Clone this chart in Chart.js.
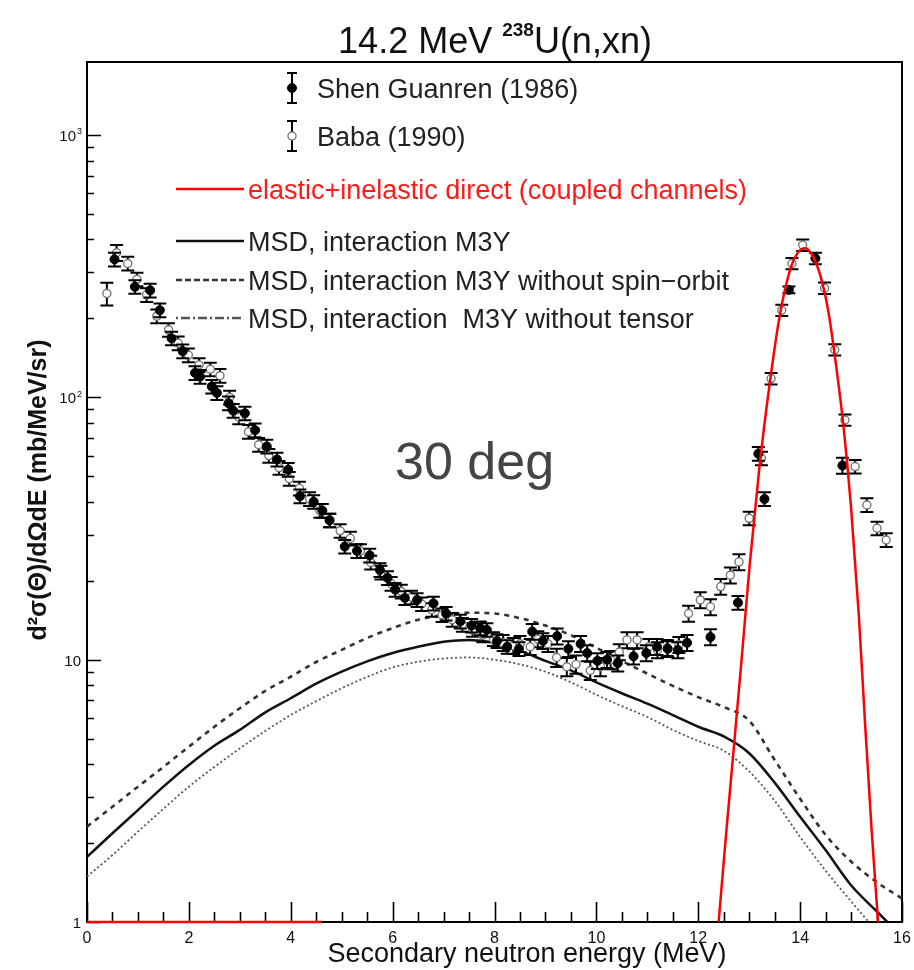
<!DOCTYPE html>
<html>
<head>
<meta charset="utf-8">
<script src="https://cdn.jsdelivr.net/npm/chart.js@4.4.1/dist/chart.umd.min.js"></script>
<style>
  html, body { margin: 0; padding: 0; background: #fff; }
  canvas { display: block; }
</style>
</head>
<body>
<canvas id="spectrum" width="914" height="970"></canvas>
<script>
// secondary neutron energy (MeV) / d2sigma (mb/MeV/sr) / error in percent
const shenE = [0.54, 0.94, 1.24, 1.43, 1.66, 1.88, 2.12, 2.22, 2.45, 2.55, 2.78, 2.87, 3.10, 3.30, 3.53, 3.73, 3.95,
  4.18, 4.45, 4.62, 4.76, 5.06, 5.30, 5.55, 5.75, 5.90, 6.05, 6.24, 6.48, 6.80, 7.05, 7.33, 7.55, 7.72, 7.85,
  8.05, 8.25, 8.48, 8.74, 8.95, 9.23, 9.45, 9.69, 9.82, 10.02, 10.21, 10.42, 10.73, 10.98, 11.19, 11.40, 11.60,
  11.78, 12.24, 12.78, 13.18, 13.30, 13.78, 14.30, 14.83];
const shenY = [336, 264, 256, 215, 168, 150, 124, 120, 110, 104, 95, 89, 87, 75, 65, 58, 53,
  42, 40, 37, 34, 27, 26, 25, 22, 20.5, 18.5, 17.2, 16.9, 16.4, 15.0, 14.0, 13.5, 13.2, 13.0,
  11.8, 11.2, 11.0, 12.8, 11.8, 12.3, 11.0, 11.5, 10.6, 9.9, 10.0, 9.7, 10.3, 10.6, 11.2, 11.0, 10.9,
  11.6, 12.2, 16.5, 61, 41, 257, 339, 55];
const shenErr = [6, 6, 6, 6, 6, 6, 6, 6, 6, 6, 6, 6, 6, 6, 6, 6, 6,
  6, 6, 6, 6, 6, 6, 6, 6, 6, 6, 6, 6, 6, 6, 6, 6, 6, 6,
  6, 6, 6, 7, 7, 7, 7, 7, 7, 7, 7, 7, 7, 7, 7, 7, 7,
  7, 7, 6, 6, 6, 3, 5, 7];

const babaE = [0.39, 0.58, 0.80, 0.98, 1.17, 1.37, 1.60, 1.79, 1.99, 2.20, 2.42, 2.61, 2.80, 2.98, 3.17, 3.37,
  3.57, 3.77, 3.97, 4.17, 4.37, 4.57, 4.77, 4.97, 5.17, 5.37, 5.57, 5.77, 5.97, 6.17, 6.37, 6.57, 6.77, 6.97,
  7.17, 7.37, 7.57, 7.77, 7.98, 8.17, 8.37, 8.50, 8.70, 8.85, 9.05, 9.22, 9.42, 9.60, 9.88, 10.08, 10.28,
  10.45, 10.60, 10.80, 11.03, 11.20, 11.39, 11.62, 11.81, 12.04, 12.24, 12.44, 12.63, 12.80, 13.00, 13.24,
  13.43, 13.64, 13.84, 14.05, 14.48, 14.68, 14.88, 15.08, 15.31, 15.51, 15.69];
const babaY = [249, 356, 324, 282, 246, 204, 181, 161, 145, 133, 128, 121, 100, 84, 74, 66,
  60, 54, 49, 45, 41, 37, 34, 31, 29, 26, 23.5, 21.5, 19.5, 18.2, 17.3, 16.3, 15.5, 14.8,
  14.2, 13.6, 13.0, 12.4, 12.0, 11.6, 11.3, 11.5, 11.2, 12.0, 11.5, 10.2, 9.4, 9.6, 9.1, 9.4, 10.0,
  10.7, 11.9, 11.9, 11.2, 10.9, 11.1, 11.4, 15.0, 16.9, 15.9, 19.0, 21, 23.6, 34.6, 58.6,
  118, 215, 324, 381, 261, 152, 82, 54.5, 38.9, 31.7, 28.6];
const babaErr = [10, 7, 6, 6, 6, 6, 6, 6, 6, 6, 6, 6, 6, 6, 6, 6,
  6, 6, 6, 6, 6, 6, 6, 6, 6, 6, 6, 6, 6, 6, 6, 6, 6, 6,
  6, 6, 6, 6, 6, 7, 7, 7, 7, 7, 7, 8, 8, 8, 8, 8, 8,
  7, 7, 7, 7, 7, 7, 7, 7, 7, 7, 7, 7, 7, 6, 6,
  5, 5, 5, 5, 5, 5, 5, 6, 6, 6, 6];

// MSD calculations on a common energy grid
const msdE = [0, 0.5, 1, 1.5, 2, 2.5, 3, 3.5, 4, 4.5, 5, 5.5, 6, 6.5, 7, 7.5, 8, 8.5, 9, 9.5, 10,
  10.5, 11, 11.5, 12, 12.5, 13, 13.5, 14, 14.5, 15, 15.5, 16];
const msdM3Y = [1.77, 2.18, 2.67, 3.28, 3.97, 4.7, 5.4, 6.3, 7.13, 8.1, 9.0, 9.85, 10.6, 11.2, 11.7, 11.9, 11.6,
  10.8, 9.9, 9.1, 8.2, 7.45, 6.8, 6.15, 5.55, 5.1, 4.4, 3.4, 2.52, 1.88, 1.38, 1.1, 0.88];
const msdNoSpinOrbit = [2.31, 2.75, 3.28, 3.9, 4.66, 5.55, 6.53, 7.6, 8.61, 9.8, 10.9, 12.1, 13.2, 14.2, 14.8, 15.1,
  15.0, 14.4, 13.5, 12.4, 11.1, 9.9, 8.85, 7.95, 7.2, 6.6, 5.85, 4.15, 2.95, 2.15, 1.7, 1.42, 1.23];
const msdNoTensor = [1.49, 1.8, 2.21, 2.7, 3.28, 3.9, 4.59, 5.35, 6.15, 6.95, 7.78, 8.6, 9.35, 9.82, 10.1, 10.2,
  10.0, 9.6, 9.0, 8.2, 7.35, 6.65, 6.05, 5.4, 4.9, 4.5, 3.75, 2.9, 2.11, 1.57, 1.2, 0.93, 0.76];

// coupled channels (elastic + inelastic direct); null breaks the line
const ccE = [0, 4.6, 5, 12.40, 12.55, 12.71, 12.86, 13.01, 13.2, 13.4, 13.6, 13.8, 13.95, 14.1, 14.25, 14.4,
  14.55, 14.7, 14.85, 15.0, 15.15, 15.28, 15.4, 15.53];
const ccY = [1, 1, null, 1.0, 2.2, 4.9, 10.5, 23, 54, 112, 205, 305, 355, 370, 345, 290,
  215, 135, 78, 38, 15, 5.5, 2.3, 1.0];

const xTickLabels = [0, 2, 4, 6, 8, 10, 12, 14, 16];
const yTickLabels = [[1, '1', ''], [10, '10', ''], [100, '10', '2'], [1000, '10', '3']];

const FONT = '"Liberation Sans", Arial, sans-serif';
const toPoints = (xs, ys) => xs.map((x, i) => ({ x, y: ys[i] }));

// frame and inward ticks, drawn under the curves
const axesPlugin = {
  id: 'axes',
  beforeDatasetsDraw(chart) {
    const { ctx, chartArea: a, scales: { x, y } } = chart;
    ctx.save();
    ctx.strokeStyle = '#000';
    ctx.lineWidth = 2;
    ctx.strokeRect(a.left, a.top, a.right - a.left, a.bottom - a.top);
    ctx.lineWidth = 1.6;
    ctx.beginPath();
    for (let v = 0; v <= 16; v += 0.5) {
      const px = Math.round(x.getPixelForValue(v)) + 0.5;
      const len = v % 2 === 0 ? 20 : 10;
      ctx.moveTo(px, a.bottom);
      ctx.lineTo(px, a.bottom - len);
    }
    for (let d = 1; d <= 1000; d *= 10) {
      for (let m = 1; m <= 9; m++) {
        const v = d * m;
        if (v > y.max) break;
        const py = Math.round(y.getPixelForValue(v)) + 0.5;
        ctx.moveTo(a.left, py);
        ctx.lineTo(a.left + (m === 1 ? 14 : 7), py);
      }
    }
    ctx.stroke();
    ctx.restore();
  }
};

// vertical error bars with caps under each data marker
const errorBarPlugin = {
  id: 'errorBars',
  beforeDatasetDraw(chart, args) {
    const ds = chart.data.datasets[args.index];
    if (!ds.errPct) return;
    const { ctx } = chart;
    const y = chart.scales.y;
    ctx.save();
    ctx.strokeStyle = '#000';
    ctx.lineWidth = 2;
    ctx.beginPath();
    args.meta.data.forEach((pt, i) => {
      const v = ds.data[i].y;
      const e = v * ds.errPct[i] / 100;
      const top = y.getPixelForValue(v + e);
      const bot = y.getPixelForValue(v - e);
      ctx.moveTo(pt.x, top); ctx.lineTo(pt.x, bot);
      ctx.moveTo(pt.x - 6.5, top); ctx.lineTo(pt.x + 6.5, top);
      ctx.moveTo(pt.x - 6.5, bot); ctx.lineTo(pt.x + 6.5, bot);
    });
    ctx.stroke();
    ctx.restore();
  }
};

function drawPower(ctx, base, exp, x, y, size, align) {
  ctx.font = size + 'px ' + FONT;
  const wb = ctx.measureText(base).width;
  ctx.font = Math.round(size * 0.62) + 'px ' + FONT;
  const we = exp ? ctx.measureText(exp).width : 0;
  const start = align === 'right' ? x - wb - we : x - (wb + we) / 2;
  ctx.textAlign = 'left';
  ctx.font = size + 'px ' + FONT;
  ctx.fillText(base, start, y);
  if (exp) {
    ctx.font = Math.round(size * 0.62) + 'px ' + FONT;
    ctx.fillText(exp, start + wb + 1, y - size * 0.45);
  }
}

// titles, tick labels, legend and angle annotation
const labelsPlugin = {
  id: 'labels',
  afterDraw(chart) {
    const { ctx, chartArea: a, scales: { x, y } } = chart;
    const ds = chart.data.datasets;
    ctx.save();
    ctx.fillStyle = '#111';
    ctx.textBaseline = 'alphabetic';

    // main title with superscript mass number
    const tSize = 36;
    ctx.font = tSize + 'px ' + FONT;
    const p1 = '14.2 MeV ', p3 = 'U(n,xn)';
    const w1 = ctx.measureText(p1).width, w3 = ctx.measureText(p3).width;
    ctx.font = 'bold 19px ' + FONT;
    const w2 = ctx.measureText('238').width;
    const tx = 495 - (w1 + w2 + w3) / 2;
    ctx.textAlign = 'left';
    ctx.font = tSize + 'px ' + FONT;
    ctx.fillText(p1, tx, 53);
    ctx.font = 'bold 19px ' + FONT;
    ctx.fillText('238', tx + w1, 36);
    ctx.font = tSize + 'px ' + FONT;
    ctx.fillText(p3, tx + w1 + w2, 53);

    // x tick labels
    ctx.font = '16px ' + FONT;
    ctx.textAlign = 'center';
    xTickLabels.forEach(v => ctx.fillText(String(v), x.getPixelForValue(v), a.bottom + 21));

    // y tick labels
    yTickLabels.forEach(([v, b, e]) => drawPower(ctx, b, e, a.left - 6, y.getPixelForValue(v) + 6, 15, 'right'));

    // axis titles
    ctx.font = '27px ' + FONT;
    ctx.textAlign = 'center';
    ctx.fillText('Secondary neutron energy (MeV)', 527, 962);
    ctx.save();
    ctx.translate(46, 490);
    ctx.rotate(-Math.PI / 2);
    ctx.font = 'bold 25px ' + FONT;
    ctx.fillText('d\u00B2\u03C3(\u0398)/d\u03A9dE (mb/MeV/sr)', 0, 0);
    ctx.restore();

    // angle
    ctx.fillStyle = '#444';
    ctx.font = '52px ' + FONT;
    ctx.textAlign = 'left';
    ctx.fillText('30 deg', 395, 479);

    // legend: marker entries
    ctx.font = '27px ' + FONT;
    const markRows = [[ds[1], 88], [ds[2], 136]];
    markRows.forEach(([d, ly]) => {
      ctx.strokeStyle = '#000';
      ctx.lineWidth = 2;
      ctx.beginPath();
      ctx.moveTo(292, ly - 15); ctx.lineTo(292, ly + 15);
      ctx.moveTo(287, ly - 15); ctx.lineTo(297, ly - 15);
      ctx.moveTo(287, ly + 15); ctx.lineTo(297, ly + 15);
      ctx.stroke();
      ctx.beginPath();
      ctx.arc(292, ly, d.pointRadius, 0, Math.PI * 2);
      ctx.fillStyle = d.backgroundColor;
      ctx.fill();
      ctx.lineWidth = d.borderWidth || 1;
      ctx.strokeStyle = d.borderColor;
      ctx.stroke();
      ctx.fillStyle = '#222';
      ctx.fillText(d.label, 317, ly + 10);
    });

    // legend: line entries
    const lineRows = [[ds[0], 189, [], '#ff1a1a'], [ds[3], 241, [], '#222'],
      [ds[4], 280, [6, 3], '#222'], [ds[5], 318, [2, 3, 9, 3], '#222']];
    lineRows.forEach(([d, ly, dash, col]) => {
      ctx.strokeStyle = d.borderColor;
      ctx.lineWidth = 2.5;
      ctx.setLineDash(dash);
      ctx.beginPath();
      ctx.moveTo(176, ly); ctx.lineTo(244, ly);
      ctx.stroke();
      ctx.setLineDash([]);
      ctx.fillStyle = col;
      ctx.fillText(d.label, 248, ly + 10);
    });
    ctx.restore();
  }
};

new Chart(document.getElementById('spectrum'), {
  type: 'scatter',
  data: {
    datasets: [
      {
        label: 'elastic+inelastic direct (coupled channels)',
        data: toPoints(ccE, ccY),
        showLine: true, spanGaps: false,
        borderColor: '#ff0000', borderWidth: 2.5,
        pointRadius: 0, cubicInterpolationMode: 'monotone',
        clip: { left: 2, top: 0, right: 0, bottom: 2 },
        order: 0
      },
      {
        label: 'Shen Guanren (1986)',
        data: toPoints(shenE, shenY), errPct: shenErr,
        pointRadius: 4.5, backgroundColor: '#000', borderColor: '#000', borderWidth: 1,
        order: 1
      },
      {
        label: 'Baba (1990)',
        data: toPoints(babaE, babaY), errPct: babaErr,
        pointRadius: 4, backgroundColor: '#fff', borderColor: '#777', borderWidth: 1.4,
        order: 2
      },
      {
        label: 'MSD, interaction M3Y',
        data: toPoints(msdE, msdM3Y),
        showLine: true, borderColor: '#111', borderWidth: 2.5,
        pointRadius: 0, cubicInterpolationMode: 'monotone',
        order: 3
      },
      {
        label: 'MSD, interaction M3Y without spin\u2212orbit',
        data: toPoints(msdE, msdNoSpinOrbit),
        showLine: true, borderColor: '#333', borderWidth: 2.6, borderDash: [5, 5],
        pointRadius: 0, cubicInterpolationMode: 'monotone',
        order: 4
      },
      {
        label: 'MSD, interaction  M3Y without tensor',
        data: toPoints(msdE, msdNoTensor),
        showLine: true, borderColor: '#555', borderWidth: 1.8, borderDash: [2, 2.5],
        pointRadius: 0, cubicInterpolationMode: 'monotone',
        order: 5
      }
    ]
  },
  options: {
    responsive: false,
    animation: false,
    devicePixelRatio: 1,
    events: [],
    layout: { padding: { left: 87, right: 12, top: 62, bottom: 48 } },
    plugins: { legend: { display: false }, tooltip: { enabled: false } },
    scales: {
      x: { type: 'linear', min: 0, max: 16, display: false },
      y: { type: 'logarithmic', min: 1, max: 1900, display: false }
    }
  },
  plugins: [axesPlugin, errorBarPlugin, labelsPlugin]
});
</script>
</body>
</html>
